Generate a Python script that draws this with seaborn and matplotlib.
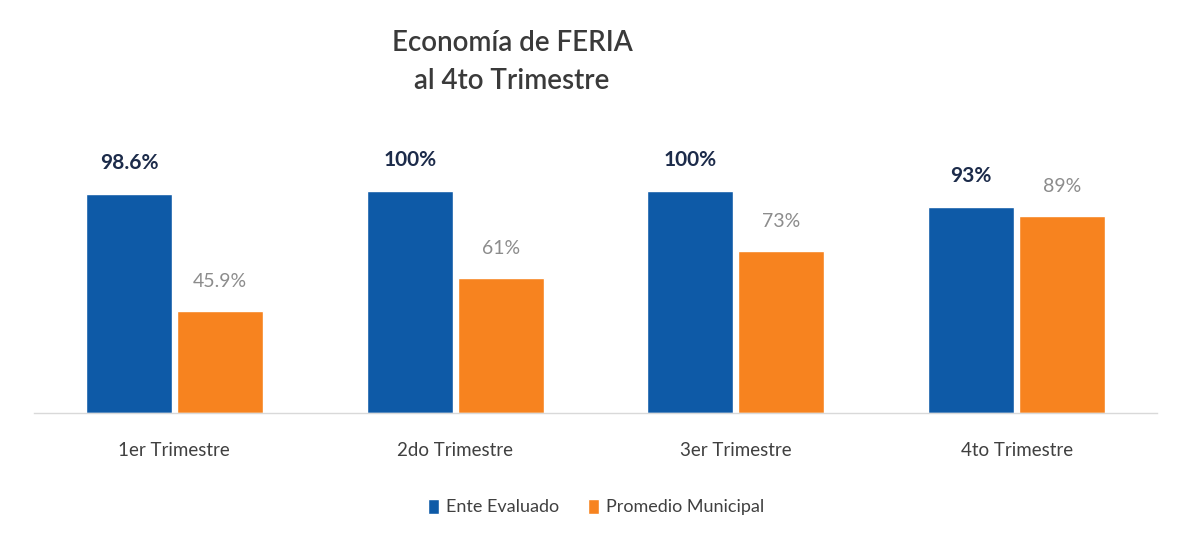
import matplotlib
matplotlib.use("Agg")
import matplotlib.pyplot as plt
import seaborn as sns
import pandas as pd

categories = ["1er Trimestre", "2do Trimestre", "3er Trimestre", "4to Trimestre"]
series_names = ["Ente Evaluado", "Promedio Municipal"]
ente_values = [98.6, 100, 100, 93]
promedio_values = [45.9, 61, 73, 89]
ente_labels = ["98.6%", "100%", "100%", "93%"]
promedio_labels = ["45.9%", "61%", "73%", "89%"]
title_text = "Economía de FERIA\nal 4to Trimestre"

colors = ["#0E5AA7", "#F7831F"]

df = pd.DataFrame({
    "Trimestre": categories * 2,
    "Serie": [series_names[0]] * 4 + [series_names[1]] * 4,
    "Valor": ente_values + promedio_values,
})

sns.set_theme(style="white")
plt.rcParams["font.family"] = ["Lato", "DejaVu Sans"]

fig = plt.figure(figsize=(11.79, 5.47), dpi=100)
ax = fig.add_axes([34 / 1179, 1 - 413 / 547, (1157 - 34) / 1179, (413 - 169) / 547])

sns.barplot(data=df, x="Trimestre", y="Valor", hue="Serie", palette=colors,
            width=0.648, gap=0.055, saturation=1, ax=ax, legend=True, errorbar=None)

ax.set_ylim(0, 110)
ax.set_xlim(-0.5, 3.5)
ax.set_xlabel("")
ax.set_ylabel("")
ax.set_yticks([])
for s in ["top", "left", "right"]:
    ax.spines[s].set_visible(False)
ax.spines["bottom"].set_color("#d9d9d9")
ax.spines["bottom"].set_linewidth(1)
ax.tick_params(axis="x", length=0, pad=21, labelsize=13.5, labelcolor="#404040")

for i, cont in enumerate(ax.containers[:2]):
    if i == 0:
        ax.bar_label(cont, labels=ente_labels, padding=15, fontsize=15, fontweight="bold",
                     color="#1C2B4A")
    else:
        ax.bar_label(cont, labels=promedio_labels, padding=15, fontsize=14, color="#8C8C8C")

leg = ax.legend(loc="center", bbox_to_anchor=(596 / 1179, 1 - 507 / 547),
                bbox_transform=fig.transFigure, ncol=2, frameon=False,
                fontsize=13, handlelength=0.6, handleheight=0.9, handletextpad=0.4,
                columnspacing=1.6)
for t in leg.get_texts():
    t.set_color("#404040")

fig.text(512 / 1179, 1 - 62 / 547, title_text, ha="center", va="center",
         fontsize=20, fontweight="semibold", color="#3A3A3A", linespacing=1.55)

fig.savefig("out.png", dpi=100, facecolor="white")
